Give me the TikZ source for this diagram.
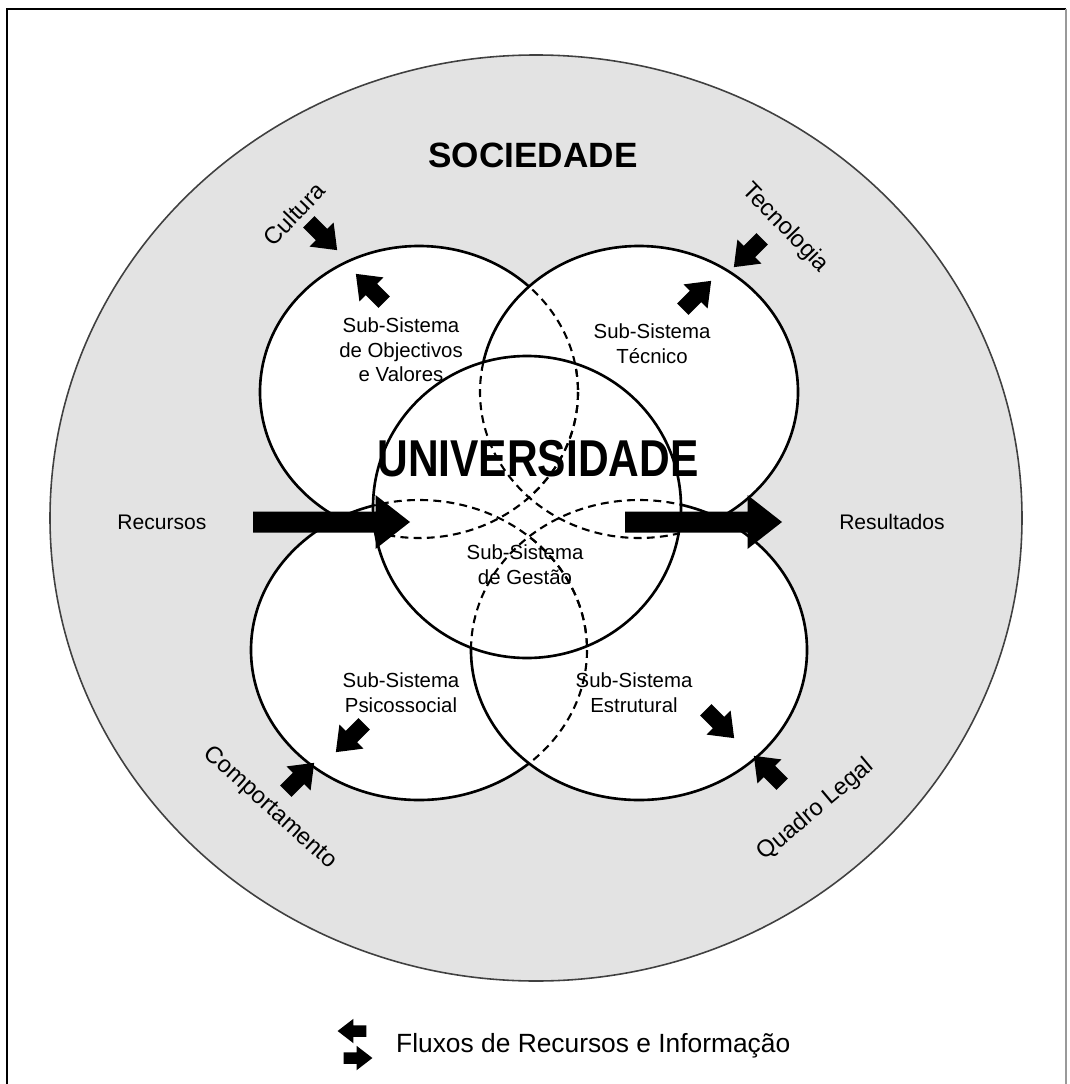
\documentclass[tikz,border=0pt]{standalone}
\usepackage{fontspec}
\setmainfont{Liberation Sans}

\begin{document}
\begin{tikzpicture}[x=0.02cm,y=-0.02cm]
\tikzset{
  subsys/.style={align=center,font=\fontsize{11.6}{14}\selectfont},
  flowlabel/.style={font=\fontsize{12}{14}\selectfont},
  envlabel/.style={font=\fontsize{13.5}{16}\selectfont},
  ringline/.style={draw=black,line width=1.5pt},
  hiddenline/.style={draw=black,line width=1.2pt,dash pattern=on 4.5pt off 3pt},
  blockarrow/.pic={\fill[black] (-20,-8) -- (-2,-8) -- (-2,-17) -- (20,0) -- (-2,17) -- (-2,8) -- (-20,8) -- cycle;},
  bigarrow/.pic={\fill[black] (-78.5,-10.5) -- (44,-10.5) -- (44,-27) -- (78.5,0) -- (44,27) -- (44,10.5) -- (-78.5,10.5) -- cycle;}
}
\def\society{(536,518) ellipse [x radius=486, y radius=463]}
\def\goalring{(419,392) ellipse [x radius=159, y radius=146]}
\def\techring{(639,392) ellipse [x radius=159, y radius=146]}
\def\psyring{(419,650) ellipse [x radius=168, y radius=150]}
\def\structring{(639,650) ellipse [x radius=168, y radius=150]}
\def\mgmtring{(527,507) ellipse [x radius=154, y radius=151]}
\useasboundingbox (0,0) rectangle (1070,1084);
% frame
\draw[line width=1.6pt] (7,1084) -- (7,9) -- (1066,9);
\draw[black!40,line width=0.8pt] (1066,9) -- (1066,1084);
% environment
\fill[black!11] \society;
\draw[black!75,line width=0.9pt] \society;
% sub-systems, back to front
\filldraw[fill=white,ringline] \goalring;
\filldraw[fill=white,ringline] \psyring;
\filldraw[fill=white,ringline] \techring;
\filldraw[fill=white,ringline] \structring;
\filldraw[fill=white,ringline] \mgmtring;
% hidden parts
\begin{scope}
  \clip \techring;
  \draw[hiddenline] \goalring;
\end{scope}
\begin{scope}
  \clip \structring;
  \draw[hiddenline] \psyring;
\end{scope}
\begin{scope}
  \clip \mgmtring;
  \draw[hiddenline] \goalring;
  \draw[hiddenline] \techring;
  \draw[hiddenline] \psyring;
  \draw[hiddenline] \structring;
\end{scope}
% labels
\node[font=\fontsize{20}{24}\selectfont\bfseries] (society) at (533,155) {SOCIEDADE};
\node[font=\fontsize{29.5}{32}\selectfont\bfseries] (university) at (538,459) {\scalebox{0.82}[1]{UNIVERSIDADE}};
\node[subsys] (goals) at (401,350) {Sub-Sistema\\de Objectivos\\e Valores};
\node[subsys] (technical) at (652,344) {Sub-Sistema\\Técnico};
\node[subsys] (management) at (525,565) {Sub-Sistema\\de Gestão};
\node[subsys] (psychosocial) at (401,693) {Sub-Sistema\\Psicossocial};
\node[subsys] (structural) at (634,693) {Sub-Sistema\\Estrutural};
\node[flowlabel] (resources) at (162,522) {Recursos};
\node[flowlabel] (results) at (892,522) {Resultados};
\node[envlabel,rotate=46] (culture) at (294,214) {Cultura};
\node[envlabel,rotate=-46] (technology) at (785,228) {Tecnologia};
\node[envlabel,rotate=-42] (behaviour) at (270,808) {Comportamento};
\node[envlabel,rotate=40] (legalframe) at (816,810) {Quadro Legal};
% exchanges with the environment
\pic[rotate=-45] (cultureIn) at (323,236) {blockarrow};
\pic[rotate=135] (cultureOut) at (370,288) {blockarrow};
\pic[rotate=-135] (techIn) at (748,253) {blockarrow};
\pic[rotate=45] (techOut) at (697,295) {blockarrow};
\pic[rotate=45] (behaviourIn) at (300,777) {blockarrow};
\pic[rotate=-135] (behaviourOut) at (350,738) {blockarrow};
\pic[rotate=135] (legalIn) at (768,770) {blockarrow};
\pic[rotate=-45] (legalOut) at (720,724) {blockarrow};
\pic (resourcesIn) at (331.5,522) {bigarrow};
\pic (resultsOut) at (703.5,522) {bigarrow};
% legend
\pic[rotate=180,scale=0.72] (legendLeft) at (352,1031) {blockarrow};
\pic[scale=0.72] (legendRight) at (358,1058) {blockarrow};
\node[font=\fontsize{15}{18}\selectfont,anchor=base west] (legend) at (390,1052) {Fluxos de Recursos e Informação};
\end{tikzpicture}
\end{document}
